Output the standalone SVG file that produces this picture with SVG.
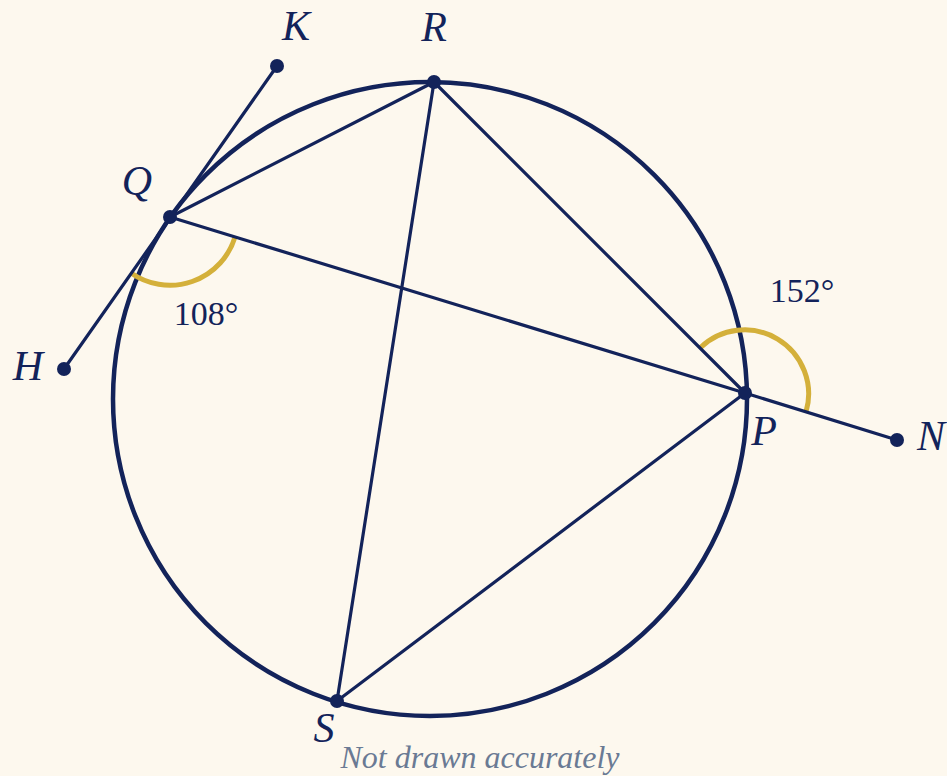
<svg xmlns="http://www.w3.org/2000/svg" width="947" height="776" viewBox="0 0 947 776">
<style>
.ln{stroke:#13235a;stroke-width:3.2;fill:none;stroke-linecap:round}
.circ{stroke:#13235a;stroke-width:4.5;fill:none}
.dot{fill:#13235a}
.ang{stroke:#d4b03a;stroke-width:5;fill:none}
.lbl{font-family:"Liberation Serif","DejaVu Serif",serif;font-style:italic;font-size:42px;fill:#13235a;text-anchor:middle}
.deg{font-family:"Liberation Serif","DejaVu Serif",serif;font-size:34px;fill:#13235a;text-anchor:middle}
.note{font-family:"Liberation Serif","DejaVu Serif",serif;font-style:italic;font-size:32px;fill:#6a7a94;text-anchor:middle}
</style>
<rect width="947" height="776" fill="#fdf8ee"/>
<g id="circle"><circle class="circ" cx="430" cy="399" r="317"/></g>
<g id="angles">
<path class="ang" d="M235 237 A68 68 0 0 1 131 273"/>
<path class="ang" d="M700 348 A64 64 0 0 1 806 412"/>
</g>
<g id="connectors">
<line class="ln" x1="277" y1="66" x2="64" y2="369"/>
<line class="ln" x1="170" y1="217" x2="434" y2="82"/>
<line class="ln" x1="170" y1="217" x2="745" y2="393"/>
<line class="ln" x1="745" y1="393" x2="897" y2="440"/>
<line class="ln" x1="434" y1="82" x2="745" y2="393"/>
<line class="ln" x1="434" y1="82" x2="337" y2="701"/>
<line class="ln" x1="337" y1="701" x2="745" y2="393"/>
</g>
<g id="node-K"><circle class="dot" cx="277" cy="66" r="7"/><text class="lbl" x="296" y="40">K</text></g>
<g id="node-R"><circle class="dot" cx="434" cy="82" r="7"/><text class="lbl" x="434" y="41">R</text></g>
<g id="node-Q"><circle class="dot" cx="170" cy="217" r="7"/><text class="lbl" x="137" y="195">Q</text></g>
<g id="node-H"><circle class="dot" cx="64" cy="369" r="7"/><text class="lbl" x="28" y="380">H</text></g>
<g id="node-P"><circle class="dot" cx="745" cy="393" r="7"/><text class="lbl" x="764" y="445">P</text></g>
<g id="node-N"><circle class="dot" cx="897" cy="440" r="7"/><text class="lbl" x="931" y="450">N</text></g>
<g id="node-S"><circle class="dot" cx="337" cy="701" r="7"/><text class="lbl" x="324" y="742">S</text></g>
<g id="labels">
<text class="deg" x="206" y="325">108°</text>
<text class="deg" x="802" y="302">152°</text>
<text class="note" x="480" y="768">Not drawn accurately</text>
</g>
</svg>
